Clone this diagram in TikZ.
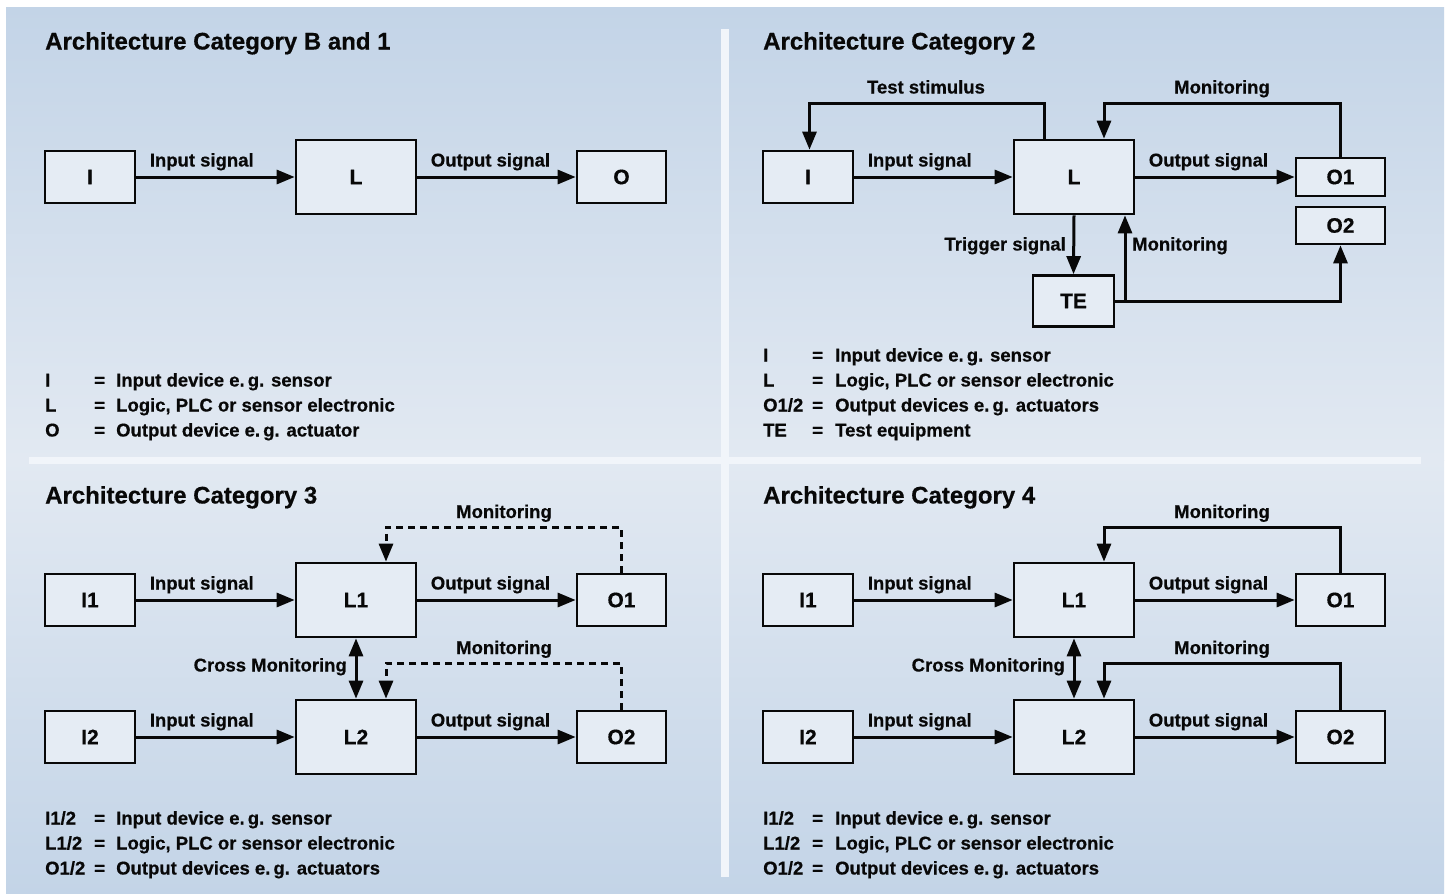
\documentclass[tikz,border=0pt]{standalone}
\usepackage{fontspec}
\setmainfont{Liberation Sans}[BoldFeatures={FakeBold=0.5}]
\usetikzlibrary{arrows.meta}
\definecolor{bgdark}{HTML}{C3D4E7}
\definecolor{bglight}{HTML}{E2E9F2}
\definecolor{divider}{HTML}{F1F5FA}
\definecolor{boxfill}{HTML}{E5ECF4}
\definecolor{ink}{HTML}{080808}
\begin{document}
\begin{tikzpicture}[x=1pt,y=1pt,
  box/.style={draw=ink, fill=boxfill, line width=2.7pt, inner sep=0pt,
    font=\fontsize{21}{21}\selectfont\bfseries, text=ink},
  arr/.style={draw=ink, line width=3pt, -{Triangle[length=18pt,width=14pt]}},
  darr/.style={draw=ink, line width=3pt, {Triangle[length=18pt,width=14pt]}-{Triangle[length=18pt,width=14pt]}},
  dsh/.style={dash pattern=on 7pt off 5pt},
  lbl/.style={font=\fontsize{18.5}{18.5}\selectfont\bfseries, text=ink, inner sep=0pt},
  leg/.style={lbl, anchor=base west},
  ttl/.style={font=\fontsize{24}{24}\selectfont\bfseries, text=ink, inner sep=0pt, anchor=base west},
  sigl/.style={lbl, pos=0, anchor=base west, xshift=12pt, yshift=10.5pt}
]
\useasboundingbox (0,0) rectangle (1449,-894);
\fill[white] (0,0) rectangle (1449,-894);
% background
\shade[top color=bgdark, bottom color=bglight] (6,-7) rectangle (1444,-460);
\shade[top color=bglight, bottom color=bgdark] (6,-460) rectangle (1444,-894);
\fill[divider] (29,-457) rectangle (1421,-464);
\fill[divider] (721,-29) rectangle (729,-877);

% ================= Category B and 1
\node[ttl] (t1) at (45,-49.5) {Architecture Category B and 1};
\node[box, minimum width=90pt, minimum height=52pt] (aI) at (90,-177) {I};
\node[box, minimum width=120pt, minimum height=74pt] (aL) at (356,-177) {L};
\node[box, minimum width=89pt, minimum height=52pt] (aO) at (621.5,-177) {O};
\draw[arr] (aI) -- node[sigl] {Input signal} (aL);
\draw[arr] (aL) -- node[sigl] {Output signal} (aO);
\node[leg] (aLg1) at (45,-386.5) {I};
\node[leg] (aLe1) at (94,-386.5) {=};
\node[leg] (aLt1) at (116,-386.5) {Input device e.\,g. sensor};
\node[leg] (aLg2) at (45,-411.5) {L};
\node[leg] (aLe2) at (94,-411.5) {=};
\node[leg] (aLt2) at (116,-411.5) {Logic, PLC or sensor electronic};
\node[leg] (aLg3) at (45,-436.5) {O};
\node[leg] (aLe3) at (94,-436.5) {=};
\node[leg] (aLt3) at (116,-436.5) {Output device e.\,g. actuator};

% ================= Category 2
\node[ttl] (t2) at (763,-49.5) {Architecture Category 2};
\node[box, minimum width=90pt, minimum height=52pt] (bI) at (808,-177) {I};
\node[box, minimum width=120pt, minimum height=74pt] (bL) at (1074,-177) {L};
\node[box, minimum width=89pt, minimum height=38pt] (bO1) at (1340.5,-177) {O1};
\node[box, minimum width=89pt, minimum height=37pt] (bO2) at (1340.5,-225.5) {O2};
\node[box, minimum width=81pt, minimum height=51pt] (bTE) at (1073.5,-301) {TE};
\draw[arr] (bI) -- node[sigl] {Input signal} (bL);
\draw[arr] (bL) -- node[sigl] {Output signal} (bO1);
\coordinate (bTs) at (926,-103);
\coordinate (bMt) at (1222,-103);
\draw[arr] ([xshift=-30pt]bL.north) |- (bTs) -| ([xshift=1.5pt]bI.north);
\node[lbl, anchor=base] (bTsl) at ([yshift=9.5pt]bTs) {Test stimulus};
\draw[arr] (bO1.north) |- (bMt) -| ([xshift=30pt]bL.north);
\node[lbl, anchor=base] (bMtl) at ([yshift=9.5pt]bMt) {Monitoring};
\draw[arr] (bL.south) -- (bTE.north);
\node[lbl, anchor=base east] (bTrl) at (1066,-250.5) {Trigger signal};
\draw[arr] (bTE.east) -| (bO2.south);
\coordinate (bBr) at ([xshift=51pt]bL.south);
\draw[arr] (bTE.east -| bBr) -- (bBr);
\node[lbl, anchor=base west] (bMl) at (1132,-250.5) {Monitoring};
\node[leg] (bLg1) at (763,-361.5) {I};
\node[leg] (bLe1) at (812,-361.5) {=};
\node[leg] (bLt1) at (835,-361.5) {Input device e.\,g. sensor};
\node[leg] (bLg2) at (763,-386.5) {L};
\node[leg] (bLe2) at (812,-386.5) {=};
\node[leg] (bLt2) at (835,-386.5) {Logic, PLC or sensor electronic};
\node[leg] (bLg3) at (763,-411.5) {O1/2};
\node[leg] (bLe3) at (812,-411.5) {=};
\node[leg] (bLt3) at (835,-411.5) {Output devices e.\,g. actuators};
\node[leg] (bLg4) at (763,-436.5) {TE};
\node[leg] (bLe4) at (812,-436.5) {=};
\node[leg] (bLt4) at (835,-436.5) {Test equipment};

% ================= Category 3
\node[ttl] (t3) at (45,-503.5) {Architecture Category 3};
\node[box, minimum width=90pt, minimum height=52pt] (cI1) at (90,-600) {I1};
\node[box, minimum width=120pt, minimum height=74pt] (cL1) at (356,-600) {L1};
\node[box, minimum width=89pt, minimum height=52pt] (cO1) at (621.5,-600) {O1};
\node[box, minimum width=90pt, minimum height=52pt] (cI2) at (90,-737) {I2};
\node[box, minimum width=120pt, minimum height=74pt] (cL2) at (356,-737) {L2};
\node[box, minimum width=89pt, minimum height=52pt] (cO2) at (621.5,-737) {O2};
\draw[arr] (cI1) -- node[sigl] {Input signal} (cL1);
\draw[arr] (cL1) -- node[sigl] {Output signal} (cO1);
\draw[arr] (cI2) -- node[sigl] {Input signal} (cL2);
\draw[arr] (cL2) -- node[sigl] {Output signal} (cO2);
\coordinate (cM1) at (504,-527);
\coordinate (cM2) at (504,-663);
\draw[arr, dsh] (cO1.north) |- (cM1) -| ([xshift=30pt]cL1.north);
\draw[arr, dsh] (cO2.north) |- (cM2) -| ([xshift=30pt]cL2.north);
\node[lbl, anchor=base] (cM1l) at ([yshift=9pt]cM1) {Monitoring};
\node[lbl, anchor=base] (cM2l) at ([yshift=9pt]cM2) {Monitoring};
\draw[darr] (cL1.south) -- (cL2.north);
\node[lbl, anchor=base east] (cCrl) at (347,-671.5) {Cross Monitoring};
\node[leg] (cLg1) at (45,-824.5) {I1/2};
\node[leg] (cLe1) at (94,-824.5) {=};
\node[leg] (cLt1) at (116,-824.5) {Input device e.\,g. sensor};
\node[leg] (cLg2) at (45,-849.5) {L1/2};
\node[leg] (cLe2) at (94,-849.5) {=};
\node[leg] (cLt2) at (116,-849.5) {Logic, PLC or sensor electronic};
\node[leg] (cLg3) at (45,-874.5) {O1/2};
\node[leg] (cLe3) at (94,-874.5) {=};
\node[leg] (cLt3) at (116,-874.5) {Output devices e.\,g. actuators};

% ================= Category 4
\node[ttl] (t4) at (763,-503.5) {Architecture Category 4};
\node[box, minimum width=90pt, minimum height=52pt] (dI1) at (808,-600) {I1};
\node[box, minimum width=120pt, minimum height=74pt] (dL1) at (1074,-600) {L1};
\node[box, minimum width=89pt, minimum height=52pt] (dO1) at (1340.5,-600) {O1};
\node[box, minimum width=90pt, minimum height=52pt] (dI2) at (808,-737) {I2};
\node[box, minimum width=120pt, minimum height=74pt] (dL2) at (1074,-737) {L2};
\node[box, minimum width=89pt, minimum height=52pt] (dO2) at (1340.5,-737) {O2};
\draw[arr] (dI1) -- node[sigl] {Input signal} (dL1);
\draw[arr] (dL1) -- node[sigl] {Output signal} (dO1);
\draw[arr] (dI2) -- node[sigl] {Input signal} (dL2);
\draw[arr] (dL2) -- node[sigl] {Output signal} (dO2);
\coordinate (dM1) at (1222,-527);
\coordinate (dM2) at (1222,-663);
\draw[arr] (dO1.north) |- (dM1) -| ([xshift=30pt]dL1.north);
\draw[arr] (dO2.north) |- (dM2) -| ([xshift=30pt]dL2.north);
\node[lbl, anchor=base] (dM1l) at ([yshift=9pt]dM1) {Monitoring};
\node[lbl, anchor=base] (dM2l) at ([yshift=9pt]dM2) {Monitoring};
\draw[darr] (dL1.south) -- (dL2.north);
\node[lbl, anchor=base east] (dCrl) at (1065,-671.5) {Cross Monitoring};
\node[leg] (dLg1) at (763,-824.5) {I1/2};
\node[leg] (dLe1) at (812,-824.5) {=};
\node[leg] (dLt1) at (835,-824.5) {Input device e.\,g. sensor};
\node[leg] (dLg2) at (763,-849.5) {L1/2};
\node[leg] (dLe2) at (812,-849.5) {=};
\node[leg] (dLt2) at (835,-849.5) {Logic, PLC or sensor electronic};
\node[leg] (dLg3) at (763,-874.5) {O1/2};
\node[leg] (dLe3) at (812,-874.5) {=};
\node[leg] (dLt3) at (835,-874.5) {Output devices e.\,g. actuators};
\end{tikzpicture}
\end{document}
